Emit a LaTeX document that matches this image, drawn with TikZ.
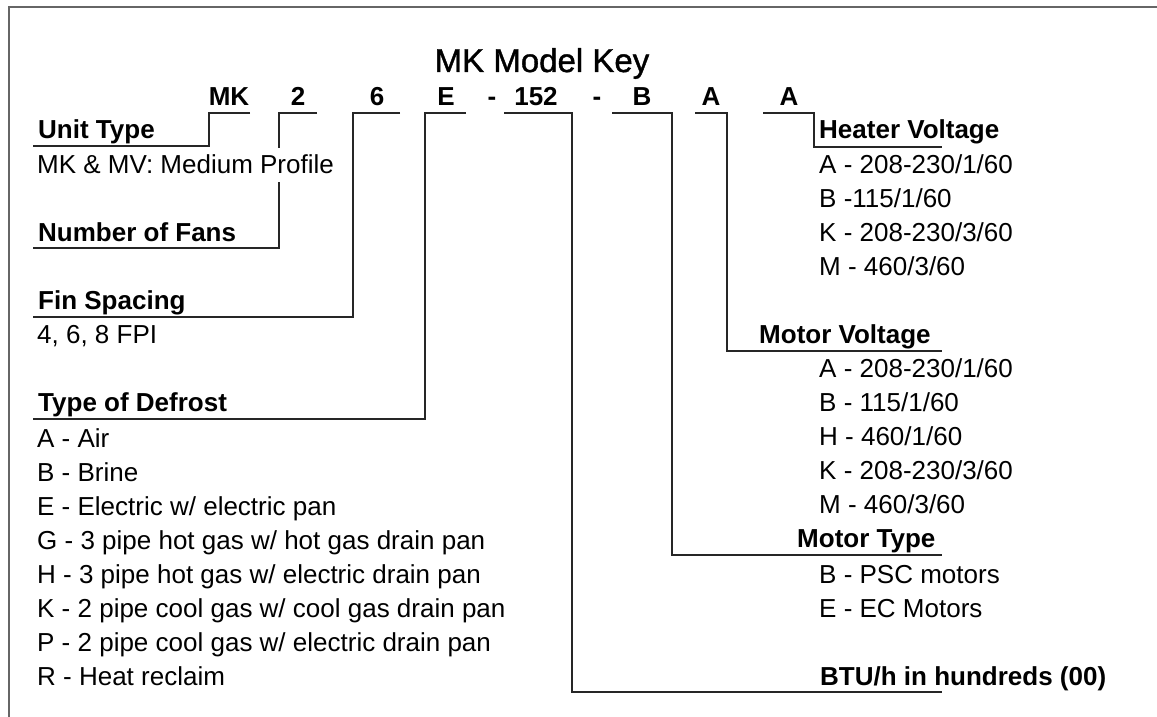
\documentclass[tikz,border=0pt]{standalone}
\usepackage{fontspec}
\setmainfont{Liberation Sans}
\newfontfamily\titlefont[FakeBold=1.2]{Liberation Sans}
\begin{document}
\begin{tikzpicture}[x=1pt,y=-1pt,
  body/.style={anchor=base west, inner sep=0pt, font=\fontsize{26}{30}\selectfont},
  lbl/.style={anchor=base west, inner sep=0pt, font=\fontsize{26}{30}\selectfont\bfseries},
  code/.style={anchor=base, inner sep=0pt, font=\fontsize{26}{30}\selectfont\bfseries},
  conn/.style={line width=2pt, black!85, line join=miter},
  frame/.style={line width=2.5pt, black!60}]
\useasboundingbox (0,0) rectangle (1157,717);
\draw[frame] (9,717) -- (9,7) -- (1157,7);

% title and code row
\node[anchor=base, inner sep=0pt, font=\titlefont\fontsize{33}{36}\selectfont] (title) at (542,72) {MK Model Key};
\node[code] (cMK) at (229,105) {MK};
\node[code] (c2) at (298,105) {2};
\node[code] (c6) at (377,105) {6};
\node[code] (cE) at (446,105) {E};
\node[code] (d1) at (492,105) {-};
\node[code] (c152) at (536,105) {152};
\node[code] (d2) at (597,105) {-};
\node[code] (cB) at (642,105) {B};
\node[code] (cA1) at (711,105) {A};
\node[code] (cA2) at (789,105) {A};

% connector points
\coordinate (mkR) at (250,113);  \coordinate (mkL) at (209,113);
\coordinate (mkD) at (209,146);  \coordinate (unitE) at (33,146);
\coordinate (twR) at (317,113);  \coordinate (twL) at (279,113);
\coordinate (twD) at (279,248);  \coordinate (fansE) at (33,248);
\coordinate (sxR) at (400,113);  \coordinate (sxL) at (353,113);
\coordinate (sxD) at (353,317);  \coordinate (finE) at (33,317);
\coordinate (eR) at (466,113);   \coordinate (eL) at (425,113);
\coordinate (eD) at (425,419);   \coordinate (defE) at (33,419);
\coordinate (btL) at (504,113);  \coordinate (btR) at (572,113);
\coordinate (btD) at (572,692);  \coordinate (btuE) at (942,692);
\coordinate (bL) at (612,113);   \coordinate (bR) at (672,113);
\coordinate (bD) at (672,555);   \coordinate (mtE) at (942,555);
\coordinate (a1L) at (695,113);  \coordinate (a1R) at (727,113);
\coordinate (a1D) at (727,351);  \coordinate (mvE) at (942,351);
\coordinate (a2L) at (763,113);  \coordinate (a2R) at (814,113);
\coordinate (a2D) at (814,147);  \coordinate (hvE) at (942,147);

\draw[conn] (mkR) -- (mkL) -- (mkD) -- (unitE);
\draw[conn] (twR) -- (twL) -- (twD) -- (fansE);
\draw[conn] (sxR) -- (sxL) -- (sxD) -- (finE);
\draw[conn] (eR) -- (eL) -- (eD) -- (defE);
\draw[conn] (btL) -- (btR) -- (btD) -- (btuE);
\draw[conn] (bL) -- (bR) -- (bD) -- (mtE);
\draw[conn] (a1L) -- (a1R) -- (a1D) -- (mvE);
\draw[conn] (a2L) -- (a2R) -- (a2D) -- (hvE);

% left column
\node[lbl] (unit) at (38,139) {Unit Type};
\node[body, fill=white, text height=25pt, text depth=9pt] (unitv) at (37,173) {MK \& MV: Medium Profile};
\node[lbl] (fans) at (38,241) {Number of Fans};
\node[lbl] (fin) at (38,309) {Fin Spacing};
\node[body] (finv) at (37,343) {4, 6, 8 FPI};
\node[lbl] (def) at (38,411) {Type of Defrost};
\node[body] (dA) at (37,447) {A - Air};
\node[body] (dB) at (37,481) {B - Brine};
\node[body] (dE) at (37,515) {E - Electric w/ electric pan};
\node[body] (dG) at (37,549) {G - 3 pipe hot gas w/ hot gas drain pan};
\node[body] (dH) at (37,583) {H - 3 pipe hot gas w/ electric drain pan};
\node[body] (dK) at (37,617) {K - 2 pipe cool gas w/ cool gas drain pan};
\node[body] (dP) at (37,651) {P - 2 pipe cool gas w/ electric drain pan};
\node[body] (dR) at (37,685) {R - Heat reclaim};

% right column
\node[lbl] (hv) at (819,139) {Heater Voltage};
\node[body] (hA) at (819,173) {A - 208-230/1/60};
\node[body] (hB) at (819,207) {B -115/1/60};
\node[body] (hK) at (819,241) {K - 208-230/3/60};
\node[body] (hM) at (819,275) {M - 460/3/60};
\node[lbl] (mv) at (759,343) {Motor Voltage};
\node[body] (vA) at (819,377) {A - 208-230/1/60};
\node[body] (vB) at (819,411) {B - 115/1/60};
\node[body] (vH) at (819,445) {H - 460/1/60};
\node[body] (vK) at (819,479) {K - 208-230/3/60};
\node[body] (vM) at (819,513) {M - 460/3/60};
\node[lbl] (mt) at (797,547) {Motor Type};
\node[body] (tB) at (819,583) {B - PSC motors};
\node[body] (tE) at (819,617) {E - EC Motors};
\node[lbl] (btu) at (820,685) {BTU/h in hundreds (00)};
\end{tikzpicture}
\end{document}
